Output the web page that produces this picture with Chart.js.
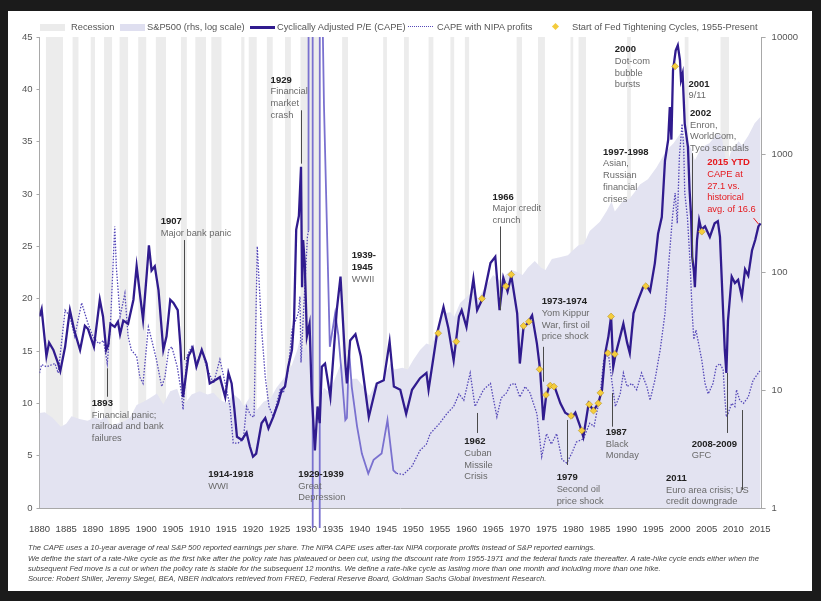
<!DOCTYPE html>
<html>
<head>
<meta charset="utf-8">
<script src="https://cdn.jsdelivr.net/npm/chart.js@4.4.1/dist/chart.umd.min.js"></script>
<style>
  html, body { margin:0; padding:0; background:#1b1b1b; width:821px; height:601px; overflow:hidden; font-family:"Liberation Sans", Arial, sans-serif; }
  #panel { position:absolute; left:8px; top:11px; width:804px; height:580px; background:#fff; }
  #chart { position:absolute; left:0; top:0; }
  .lg { position:absolute; top:21px; font-size:9.3px; color:#555; white-space:nowrap; line-height:12px; }
  .sw { position:absolute; }
  .note { position:absolute; left:28px; font-size:7.6px; font-style:italic; color:#444; white-space:nowrap; line-height:8px; }
</style>
</head>
<body>
<div id="panel"></div>
<canvas id="chart" width="821" height="601"></canvas>

<div class="sw" style="left:40px;top:24px;width:25px;height:7px;background:#ebebeb"></div>
<div class="lg" style="left:71px">Recession</div>
<div class="sw" style="left:120px;top:24px;width:25px;height:7px;background:#dfdff0"></div>
<div class="lg" style="left:147px">S&amp;P500 (rhs, log scale)</div>
<div class="sw" style="left:250px;top:26px;width:25px;height:2.5px;background:#301b8e"></div>
<div class="lg" style="left:277px">Cyclically Adjusted P/E (CAPE)</div>
<div class="sw" style="left:408px;top:26px;width:25px;height:0;border-top:1.5px dotted #5548b8"></div>
<div class="lg" style="left:437px">CAPE with NIPA profits</div>
<div class="sw" style="left:553px;top:24px;width:5px;height:5px;background:#f3cb3c;transform:rotate(45deg)"></div>
<div class="lg" style="left:572px">Start of Fed Tightening Cycles, 1955-Present</div>

<div class="note" style="top:544px">The CAPE uses a 10-year average of real S&amp;P 500 reported earnings per share. The NIPA CAPE uses after-tax NIPA corporate profits instead of S&amp;P reported earnings.</div>
<div class="note" style="top:555px">We define the start of a rate-hike cycle as the first hike after the policy rate has plateaued or been cut, using the discount rate from 1955-1971 and the federal funds rate thereafter. A rate-hike cycle ends either when the</div>
<div class="note" style="top:565px">subsequent Fed move is a cut or when the policy rate is stable for the subsequent 12 months. We define a rate-hike cycle as lasting more than one month and including more than one hike.</div>
<div class="note" style="top:575px">Source: Robert Shiller, Jeremy Siegel, BEA, NBER indicators retrieved from FRED, Federal Reserve Board, Goldman Sachs Global Investment Research.</div>

<script>
// tick labels
var xTicks = [1880,1885,1890,1895,1900,1905,1910,1915,1920,1925,1930,1935,1940,1945,1950,1955,1960,1965,1970,1975,1980,1985,1990,1995,2000,2005,2010,2015];
var rightTicks = [1, 10, 100, 1000, 10000];

// CAPE
var capeYears = [1880.0,1880.4,1881.0,1881.3,1881.8,1882.6,1883.5,1883.9,1884.8,1885.3,1885.7,1886.5,1887.6,1888.5,1889.1,1890.2,1891.3,1891.9,1892.5,1892.9,1893.3,1894.1,1894.7,1895.1,1895.7,1896.6,1897.6,1898.2,1898.8,1899.4,1900.1,1900.5,1901.0,1901.6,1902.3,1903.2,1903.8,1904.5,1905.1,1905.9,1906.4,1906.9,1907.9,1908.7,1909.4,1910.4,1911.3,1911.9,1912.9,1913.8,1914.8,1915.4,1916.0,1916.5,1917.0,1917.9,1918.8,1919.4,1920.0,1920.6,1921.6,1922.3,1922.9,1923.8,1924.7,1925.4,1926.0,1926.6,1927.3,1927.7,1928.1,1928.6,1929.0,1929.2,1929.4,1929.7,1930.1,1930.6,1931.0,1931.6,1932.1,1932.5,1932.9,1933.5,1934.5,1935.7,1936.4,1937.3,1937.6,1938.2,1939.2,1940.2,1941.7,1943.2,1944.5,1945.6,1946.4,1947.6,1948.7,1949.8,1951.3,1952.5,1952.9,1954.5,1955.7,1956.6,1957.6,1958.6,1959.1,1960.0,1961.3,1962.0,1963.2,1964.5,1965.4,1966.2,1966.9,1967.7,1968.4,1969.5,1970.0,1970.7,1971.4,1972.3,1973.2,1973.8,1974.4,1974.9,1975.6,1976.5,1977.6,1978.5,1979.8,1980.4,1981.3,1981.9,1982.9,1983.8,1984.7,1985.4,1986.0,1986.6,1987.1,1987.5,1987.9,1988.8,1989.4,1990.1,1990.6,1991.3,1992.2,1993.1,1993.8,1994.4,1995.3,1995.9,1996.6,1997.2,1997.8,1998.1,1998.4,1998.7,1999.2,1999.6,2000.0,2000.2,2000.5,2000.9,2001.5,2001.8,2002.1,2002.3,2002.6,2002.8,2003.2,2003.6,2004.0,2004.7,2005.6,2006.5,2007.1,2007.5,2008.1,2008.4,2008.7,2009.0,2009.7,2010.3,2010.9,2011.6,2012.2,2012.8,2013.5,2014.1,2014.7,2015.1];
var capeValues = [18.3,19.0,16.0,14.5,15.8,15.1,13.8,13.1,15.4,17.4,18.9,17.0,15.1,17.4,17.1,15.4,19.9,18.3,15.1,15.6,17.6,17.3,17.8,16.6,17.9,17.6,19.9,23.1,20.5,18.0,22.4,25.1,22.7,23.1,20.8,15.1,16.4,19.9,19.6,18.9,15.5,10.6,14.5,15.3,13.5,15.1,13.8,11.9,12.2,12.5,10.6,12.9,11.9,9.5,6.8,6.5,7.2,5.9,4.9,5.2,8.1,8.6,7.6,8.7,10.0,11.3,11.6,13.5,15.1,18.0,26.6,27.9,32.6,21.1,25.6,23.4,16.4,17.6,11.0,5.5,9.7,8.1,13.5,13.8,10.6,18.9,22.1,13.8,11.9,16.0,16.6,14.5,8.7,11.9,12.2,15.9,11.6,11.3,9.0,11.3,12.4,12.9,11.3,16.7,19.2,17.2,14.1,18.3,18.9,17.3,21.9,18.9,20.2,23.4,24.0,18.9,22.0,20.7,22.2,18.6,13.8,17.3,17.6,18.4,15.7,13.2,8.4,10.6,11.8,11.6,10.0,9.1,8.7,9.1,7.8,6.8,10.0,9.3,10.0,11.3,14.8,16.4,18.3,13.5,14.6,16.4,17.6,15.8,14.8,18.6,19.9,21.1,21.2,20.7,23.4,26.2,27.8,33.2,35.2,38.3,35.2,41.8,43.7,44.2,42.8,40.9,41.5,36.7,34.5,30.4,27.8,24.0,22.7,21.1,25.6,27.5,26.6,26.9,25.9,27.2,27.4,25.9,18.6,15.1,12.9,17.9,22.1,21.5,21.8,20.2,22.8,22.2,24.6,25.6,26.9,27.2];

// CAPE with NIPA profits (goes off the scale in the early 1930s)
var nipaYears = [1880.0,1880.4,1881.3,1882.9,1883.5,1884.8,1885.7,1886.6,1887.9,1889.1,1890.0,1891.1,1892.0,1892.7,1893.3,1894.1,1894.4,1895.1,1896.0,1896.6,1897.2,1898.2,1898.8,1899.4,1900.4,1901.0,1901.9,1902.9,1903.5,1904.2,1904.8,1905.8,1906.6,1906.9,1907.6,1908.5,1909.4,1910.4,1911.3,1912.6,1913.8,1914.8,1915.7,1916.3,1917.2,1918.2,1918.8,1919.6,1920.2,1920.8,1921.6,1922.3,1923.0,1923.8,1925.1,1925.7,1926.6,1927.3,1928.5,1928.8,1929.0,1929.4,1930.2,1930.4,1930.55,1931.15,1931.2,1932.5,1932.55,1933.05,1933.1,1933.3,1934.4,1935.4,1936.0,1936.6,1937.3,1937.6,1938.0,1938.5,1939.5,1940.4,1941.6,1942.6,1944.1,1945.2,1946.3,1946.9,1948.2,1949.8,1951.3,1952.5,1953.2,1955.0,1956.3,1957.6,1958.6,1959.5,1960.7,1961.6,1962.2,1963.2,1964.5,1965.7,1966.5,1967.5,1968.3,1969.1,1970.0,1971.0,1971.9,1973.2,1974.1,1975.0,1975.9,1976.9,1977.9,1978.8,1979.8,1980.6,1981.9,1983.1,1983.9,1985.0,1985.7,1986.6,1987.3,1987.9,1988.8,1989.4,1990.1,1991.0,1991.9,1992.8,1993.8,1994.4,1995.3,1996.3,1997.2,1998.0,1998.6,1999.1,1999.5,1999.9,2000.4,2000.7,2000.9,2001.4,2001.9,2002.3,2002.6,2003.0,2003.5,2004.1,2004.7,2005.3,2006.2,2006.8,2007.5,2008.1,2008.4,2008.7,2009.0,2009.7,2010.3,2010.6,2011.2,2011.9,2012.8,2013.7,2014.7,2015.1];
var nipaValues = [12.9,13.7,13.5,13.8,12.9,18.9,18.3,16.4,19.6,17.6,16.4,15.7,16.0,13.8,17.6,26.9,23.0,18.3,20.5,16.4,15.1,14.5,12.5,11.9,17.3,16.1,14.2,11.6,12.5,15.1,15.4,13.5,11.0,9.4,14.5,15.4,13.8,15.1,13.5,11.9,14.2,11.9,9.7,6.2,6.2,6.6,9.7,8.8,8.7,25.0,17.2,12.5,9.7,8.7,11.3,11.0,13.2,17.0,18.6,20.2,13.9,18.0,25.9,26.5,200,200,-30,-30,200,200,45,38.5,15.4,18.6,16.5,12.9,8.4,8.6,15.1,11.6,7.8,5.2,3.3,4.6,5.2,8.4,3.6,3.3,3.2,4.0,5.5,6.1,7.1,8.1,9.0,9.7,10.9,10.3,12.9,9.7,10.3,11.3,11.9,8.7,10.5,11.0,11.8,11.9,10.6,11.6,11.0,9.0,4.9,7.1,6.1,7.1,4.6,4.3,5.3,6.3,6.6,8.1,7.8,10.6,14.1,14.7,11.9,9.7,10.9,12.9,11.6,11.9,11.3,12.9,11.6,10.3,12.2,15.1,18.6,24.0,27.8,30.1,27.2,33.6,36.7,34.5,30.1,27.8,23.4,18.6,16.1,17.0,15.7,14.1,11.9,10.9,11.9,13.5,13.8,13.2,10.6,8.7,9.0,10.0,9.7,11.3,10.3,10.0,10.6,12.2,12.9,13.2];

// S&P 500 price index (right axis, log)
var spxYears = [1880.0,1881.0,1882.5,1884.0,1885.0,1886.0,1887.5,1889.0,1890.5,1891.5,1892.5,1893.3,1894.5,1896.0,1897.0,1898.2,1899.5,1900.7,1902.0,1903.2,1904.5,1905.8,1906.9,1908.5,1910.0,1911.5,1912.6,1914.0,1915.1,1916.3,1917.5,1918.3,1919.5,1920.7,1922.0,1923.3,1924.4,1926.0,1927.3,1928.3,1929.0,1929.4,1930.0,1930.8,1931.5,1932.0,1932.6,1933.3,1934.3,1935.5,1936.5,1937.3,1937.8,1938.5,1939.5,1940.5,1941.8,1943.0,1944.5,1945.7,1946.5,1948.0,1949.0,1950.0,1951.3,1952.5,1953.5,1954.5,1955.5,1957.0,1957.7,1958.8,1960.0,1961.3,1962.2,1963.5,1965.0,1966.3,1967.5,1968.5,1969.7,1970.5,1971.5,1972.8,1974.0,1974.8,1976.0,1977.5,1979.0,1980.0,1981.0,1982.0,1983.1,1985.0,1986.3,1987.2,1987.8,1989.4,1990.5,1991.5,1992.5,1994.0,1995.6,1997.0,1998.0,1998.8,2000.0,2000.9,2002.0,2002.8,2004.0,2005.5,2007.0,2007.8,2008.8,2009.5,2011.0,2011.6,2012.8,2014.0,2015.1];
var spxValues = [6.4,6.5,5.8,4.9,5.2,6.0,5.7,5.5,5.9,5.6,6.0,5.0,5.2,5.5,5.9,7.5,8.0,8.6,9.4,7.6,9.8,10.3,7.3,9.2,9.8,9.2,9.5,8.2,7.8,9.3,8.4,7.3,8.8,6.8,8.0,8.5,10.5,13,16.5,22,30,22,24,16,9,5.5,8.5,10.5,9.5,13,17,15,10.5,12.5,12.5,11,9,11.5,12.5,17,15,15.5,15,18,22,25,24,33,45,46,42,55,62,70,60,75,95,85,97,105,100,95,110,125,110,105,130,135,140,155,170,175,225,270,335,400,330,410,420,480,560,620,780,1000,1150,1250,1500,1400,1150,900,1150,1250,1500,1450,800,1050,1300,1200,1450,1850,2100];

// start of Fed tightening cycles
var hikeYears = [1954.7,1958.1,1962.9,1967.4,1968.4,1970.7,1971.7,1973.7,1974.9,1975.7,1976.4,1979.6,1981.6,1983.0,1983.8,1984.7,1985.1,1986.5,1987.1,1987.8,1993.6,1999.1,2004.1];
var hikeValues = [16.7,15.9,20.0,21.2,22.3,17.4,17.8,13.25,10.8,11.7,11.6,8.8,7.4,9.9,9.3,10.0,11.0,14.8,18.3,14.7,21.2,42.2,26.4];

// NBER recessions (as placed on the chart's time axis)
var recessionStart = [1881.2,1886.2,1889.6,1892.1,1895.0,1898.5,1901.8,1906.5,1909.2,1912.2,1917.8,1919.2,1922.6,1926.0,1928.9,1936.7,1944.4,1948.3,1952.9,1957.0,1959.7,1969.4,1973.4,1979.5,1981.0,1990.1,2000.9,2007.6];
var recessionEnd   = [1884.4,1887.3,1890.4,1893.6,1896.6,1900.0,1903.7,1907.6,1911.2,1914.1,1918.4,1920.7,1923.7,1927.1,1932.5,1937.8,1945.1,1949.2,1953.8,1957.7,1960.5,1970.4,1974.7,1980.0,1982.4,1990.8,2001.6,2009.2];

// text callouts, anchored in data units (year, CAPE)
var callouts = [
  {x:1889.8, y:10.0, head:['1893'], body:['Financial panic;','railroad and bank','failures'], lead:[1892.6,13.35,1892.6,10.63]},
  {x:1902.7, y:27.35, head:['1907'], body:['Major bank panic'], lead:[1907.13,25.6,1907.13,14.14]},
  {x:1923.3, y:40.9, head:['1929'], body:['Financial','market','crash'], lead:[1928.94,38.0,1928.94,32.9]},
  {x:1938.5, y:24.1, head:['1939-','1945'], body:['WWII']},
  {x:1911.6, y:3.22, head:['1914-1918'], body:['WWI']},
  {x:1928.5, y:3.22, head:['1929-1939'], body:['Great','Depression']},
  {x:1964.9, y:29.7, head:['1966'], body:['Major credit','crunch'], lead:[1966.28,26.9,1966.28,18.9]},
  {x:1974.1, y:19.7, head:['1973-1974'], body:['Yom Kippur','War, first oil','price shock'], lead:[1974.28,15.4,1974.28,12.07]},
  {x:1959.6, y:6.33, head:['1962'], body:['Cuban','Missile','Crisis'], lead:[1961.92,9.08,1961.92,7.17]},
  {x:1976.9, y:2.89, head:['1979'], body:['Second oil','price shock'], lead:[1978.78,8.41,1978.78,4.11]},
  {x:1986.1, y:7.23, head:['1987'], body:['Black','Monday'], lead:[1987.33,10.99,1987.33,7.77]},
  {x:1985.6, y:34.0, head:['1997-1998'], body:['Asian,','Russian','financial','crises']},
  {x:1987.8, y:43.8, head:['2000'], body:['Dot-com','bubble','bursts']},
  {x:2001.6, y:40.5, head:['2001'], body:['9/11']},
  {x:2001.9, y:37.7, head:['2002'], body:['Enron,','WorldCom,','Tyco scandals'], lead:[2002.2,33.9,2002.2,23.4]},
  {x:2005.1, y:33.0, head:['2015 YTD'], body:['CAPE at','27.1 vs.','historical','avg. of 16.6'], lead:[2013.74,27.71,2014.67,27.13], color:'#e5191e'},
  {x:2002.2, y:6.11, head:['2008-2009'], body:['GFC'], lead:[2008.76,12.9,2008.76,7.17]},
  {x:1997.4, y:2.84, head:['2011'], body:['Euro area crisis; US','credit downgrade'], lead:[2011.57,9.36,2011.57,1.72]}
];

function pts(xs, ys) {
  return xs.map(function(x, i) { return {x: x, y: ys[i]}; });
}

(function(){
  // grey recession columns behind everything
  var recessionBars = {
    id: 'recessionBars',
    beforeDatasetsDraw: function(chart) {
      var ctx = chart.ctx, a = chart.chartArea, xs = chart.scales.x;
      ctx.save();
      ctx.fillStyle = '#ececec';
      recessionStart.forEach(function(s, i) {
        var x0 = xs.getPixelForValue(s), x1 = xs.getPixelForValue(recessionEnd[i]);
        ctx.fillRect(x0, a.top, x1 - x0, a.bottom - a.top);
      });
      ctx.restore();
    }
  };

  // event labels with their leader lines
  var calloutText = {
    id: 'calloutText',
    afterDatasetsDraw: function(chart) {
      var ctx = chart.ctx, xs = chart.scales.x, ys = chart.scales.y;
      ctx.save();
      callouts.forEach(function(c) {
        if (c.lead) {
          ctx.strokeStyle = c.color || '#4a4a4a';
          ctx.lineWidth = 1;
          ctx.beginPath();
          ctx.moveTo(Math.round(xs.getPixelForValue(c.lead[0])) + 0.5, ys.getPixelForValue(c.lead[1]));
          ctx.lineTo(Math.round(xs.getPixelForValue(c.lead[2])) + 0.5, ys.getPixelForValue(c.lead[3]));
          ctx.stroke();
        }
        var px = xs.getPixelForValue(c.x), py = ys.getPixelForValue(c.y);
        ctx.textBaseline = 'middle';
        ctx.textAlign = 'left';
        c.head.forEach(function(t) {
          ctx.font = 'bold 9.5px "Liberation Sans", Arial, sans-serif';
          ctx.fillStyle = c.color || '#222';
          ctx.fillText(t, px, py);
          py += 11.7;
        });
        c.body.forEach(function(t) {
          ctx.font = '9.3px "Liberation Sans", Arial, sans-serif';
          ctx.fillStyle = c.color || '#6a6a6a';
          ctx.fillText(t, px, py);
          py += 11.7;
        });
      });
      ctx.restore();
    }
  };

  var ctx = document.getElementById('chart').getContext('2d');
  new Chart(ctx, {
    type: 'line',
    data: {
      datasets: [
        {
          label: 'Start of Fed Tightening Cycles',
          data: pts(hikeYears, hikeValues),
          yAxisID: 'y',
          showLine: false,
          pointStyle: 'rectRot',
          pointRadius: 3.4,
          pointBackgroundColor: '#f5cd3d',
          pointBorderColor: '#b89420',
          pointBorderWidth: 0.6,
          order: 0
        },
        {
          label: 'CAPE',
          data: pts(capeYears, capeValues),
          yAxisID: 'y',
          borderColor: '#301b8e',
          borderWidth: 2.3,
          pointRadius: 0,
          order: 1
        },
        {
          label: 'CAPE with NIPA profits',
          data: pts(nipaYears, nipaValues),
          yAxisID: 'y',
          borderColor: '#5548b8',
          borderWidth: 1.3,
          borderDash: [1.5, 1.5],
          pointRadius: 0,
          clip: {left: 0, top: 0, right: 0, bottom: 20},
          segment: {
            borderDash: function(c) { return (c.p0.parsed.x >= 1930.3 && c.p1.parsed.x <= 1947) ? [] : [1.5, 1.5]; },
            borderColor: function(c) { return (c.p0.parsed.x >= 1930.3 && c.p1.parsed.x <= 1947) ? '#7a71cf' : '#5548b8'; },
            borderWidth: function(c) { return (c.p0.parsed.x >= 1930.3 && c.p1.parsed.x <= 1947) ? 1.8 : 1.3; }
          },
          order: 2
        },
        {
          label: 'S&P500',
          data: pts(spxYears, spxValues),
          yAxisID: 'y2',
          fill: 'start',
          backgroundColor: '#e3e3f1',
          borderWidth: 0,
          pointRadius: 0,
          order: 3
        }
      ]
    },
    options: {
      responsive: false,
      animation: false,
      layout: { padding: { left: 0, right: 0, top: 37, bottom: 0 } },
      plugins: {
        legend: { display: false },
        tooltip: { enabled: false },
        filler: { propagate: false }
      },
      scales: {
        x: {
          type: 'linear',
          min: 1880,
          max: 2015.3,
          afterBuildTicks: function(s) { s.ticks = xTicks.map(function(v) { return {value: v}; }); },
          afterFit: function(s) { s.height = 93; },
          grid: { display: false },
          border: { display: true, color: '#a8a8a8', width: 1 },
          ticks: { color: '#444', font: { size: 9.5, family: '"Liberation Sans", Arial, sans-serif' }, padding: 8, maxRotation: 0, autoSkip: false,
                   callback: function(v) { return String(v); } }
        },
        y: {
          position: 'left',
          min: 0,
          max: 45,
          afterFit: function(s) { s.width = 39.5; },
          grid: { drawOnChartArea: false, drawTicks: true, tickLength: 3, color: '#a8a8a8' },
          border: { display: true, color: '#a8a8a8', width: 1 },
          ticks: { stepSize: 5, color: '#555', font: { size: 9.5, family: '"Liberation Sans", Arial, sans-serif' }, padding: 4 }
        },
        y2: {
          type: 'logarithmic',
          position: 'right',
          min: 1,
          max: 10000,
          afterBuildTicks: function(s) { s.ticks = rightTicks.map(function(v) { return {value: v}; }); },
          afterFit: function(s) { s.width = 821 - 761.6; },
          grid: { drawOnChartArea: false, drawTicks: true, tickLength: 4, color: '#a8a8a8' },
          border: { display: true, color: '#a8a8a8', width: 1 },
          ticks: { color: '#555', font: { size: 9.5, family: '"Liberation Sans", Arial, sans-serif' }, padding: 6,
                   callback: function(v) { return String(v); } }
        }
      }
    },
    plugins: [recessionBars, calloutText]
  });
})();
</script>
</body>
</html>
